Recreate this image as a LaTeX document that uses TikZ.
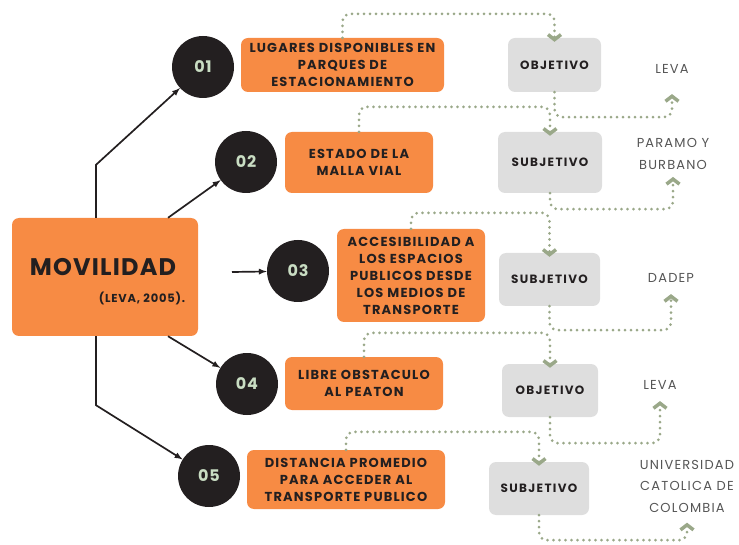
\documentclass[tikz,border=0pt]{standalone}
\usepackage{fontspec}
\setmainfont{Poppins}
\usetikzlibrary{arrows.meta}
\definecolor{mvorange}{HTML}{F78B44}
\definecolor{mvgray}{HTML}{DEDEDE}
\definecolor{mvdark}{HTML}{231F20}
\definecolor{mvnum}{HTML}{C9DDC3}
\definecolor{mvdot}{HTML}{9AA889}
\definecolor{mvsrc}{HTML}{555555}
\tikzset{
  itembox/.style={fill=mvorange, rounded corners=7pt, align=center, inner sep=2pt, text=mvdark, font=\fontsize{13}{17}\selectfont\bfseries\addfontfeatures{LetterSpace=9}},
  kindbox/.style={fill=mvgray, rounded corners=7pt, inner sep=2pt, text=mvdark, font=\fontsize{12}{14}\selectfont\bfseries\addfontfeatures{LetterSpace=11}},
  numnode/.style={circle, fill=mvdark, minimum size=62pt, inner sep=0pt, text=mvnum, font=\fontsize{16}{18}\selectfont\bfseries\addfontfeatures{LetterSpace=5}},
  srcnode/.style={align=center, text=mvsrc, font=\fontsize{13}{21.5}\selectfont\addfontfeatures{LetterSpace=9}},
  mainarrow/.style={-latex, line width=1.7pt, draw=mvdark},
  dotline/.style={draw=mvdot, line width=3pt, line cap=round, dash pattern=on 0pt off 6pt, rounded corners=8pt,
    -{Straight Barb[length=5pt, width=13pt, line width=3.5pt]}}
}
\begin{document}
\begin{tikzpicture}[x=1pt,y=-1pt]
\useasboundingbox (0,0) rectangle (739,545);
% main box
\node [itembox, minimum width=186pt, minimum height=118pt] (M) at (105,277) {};
\node [font=\fontsize{24}{26}\selectfont\bfseries\addfontfeatures{LetterSpace=5}, text=mvdark] (MT) at (103,267) {MOVILIDAD};
\node [font=\fontsize{11.5}{13}\selectfont\bfseries\addfontfeatures{LetterSpace=7}, text=mvdark] (MC) at (142,298) {(LEVA, 2005).};
% numbers
\node [numnode] (C1) at (203,67) {01};
\node [numnode] (C2) at (246,162) {02};
\node [numnode] (C3) at (298,271) {03};
\node [numnode] (C4) at (247,384) {04};
\node [numnode] (C5) at (209,476) {05};
% items
\node [itembox, minimum width=203pt, minimum height=54pt] (T1) at (342.5,65) {LUGARES DISPONIBLES EN\\PARQUES DE\\ESTACIONAMIENTO};
\node [itembox, minimum width=148pt, minimum height=61pt] (T2) at (359,162.5) {ESTADO DE LA\\MALLA VIAL};
\node [itembox, minimum width=148pt, minimum height=93pt] (T3) at (411,275.5) {ACCESIBILIDAD A\\LOS ESPACIOS\\PUBLICOS DESDE\\LOS MEDIOS DE\\TRANSPORTE};
\node [itembox, minimum width=158pt, minimum height=53pt] (T4) at (364,383.5) {LIBRE OBSTACULO\\AL PEATON};
\node [itembox, minimum width=198pt, minimum height=59pt] (T5) at (346,479.5) {DISTANCIA PROMEDIO\\PARA ACCEDER AL\\TRANSPORTE PUBLICO};
% kinds
\node [kindbox, minimum width=93pt, minimum height=54pt] (K1) at (554.5,65) {OBJETIVO};
\node [kindbox, minimum width=104pt, minimum height=61pt] (K2) at (550,162.5) {SUBJETIVO};
\node [kindbox, minimum width=101pt, minimum height=53pt] (K3) at (549.5,279.5) {SUBJETIVO};
\node [kindbox, minimum width=96pt, minimum height=53pt] (K4) at (550,390.5) {OBJETIVO};
\node [kindbox, minimum width=100pt, minimum height=53pt] (K5) at (539,488.5) {SUBJETIVO};
% sources
\node [srcnode] (R1) at (672,69) {LEVA};
\node [srcnode] (R2) at (673,154) {PARAMO Y\\BURBANO};
\node [srcnode] (R3) at (671,278) {DADEP};
\node [srcnode] (R4) at (660,385) {LEVA};
\node [srcnode] (R5) at (687,486) {UNIVERSIDAD\\CATOLICA DE\\COLOMBIA};
% black arrows
\coordinate (P3) at (232,272);
\draw [mainarrow] ([xshift=-9pt]M.north) -- ++(0,-53) -- (C1);
\draw [mainarrow] ([xshift=63pt]M.north) -- (C2);
\draw [mainarrow] (P3) -- (C3);
\draw [mainarrow] ([xshift=63pt]M.south) -- (C4);
\draw [mainarrow] ([xshift=-9pt]M.south) -- ++(0,69) -- (C5);
% dotted links
\draw [dotline] (T1.north) -- ++(0,-24) -| ([yshift=-4pt]K1.north);
\draw [dotline] (T2.north) -- ++(0,-25) -| ([yshift=-4pt]K2.north);
\draw [dotline] (T3.north) -- ++(0,-16) -| ([yshift=-4pt]K3.north);
\draw [dotline] (T4.north) -- ++(0,-24) -| ([yshift=-4pt]K4.north);
\draw [dotline] (T5.north) -- ++(0,-18) -| ([yshift=-4pt]K5.north);
\draw [dotline, shorten >=17pt] (K1.south) -- ++(0,25) -| (R1.south);
\draw [dotline, shorten >=4pt] (K2.south) -- ++(0,16) -| (R2.south);
\draw [dotline, shorten >=8pt] (K3.south) -- ++(0,24) -| (R3.south);
\draw [dotline, shorten >=8pt] (K4.south) -- ++(0,26) -| (R4.south);
\draw [dotline, shorten >=7pt] (K5.south) -- ++(0,25) -| (R5.south);
\end{tikzpicture}
\end{document}
